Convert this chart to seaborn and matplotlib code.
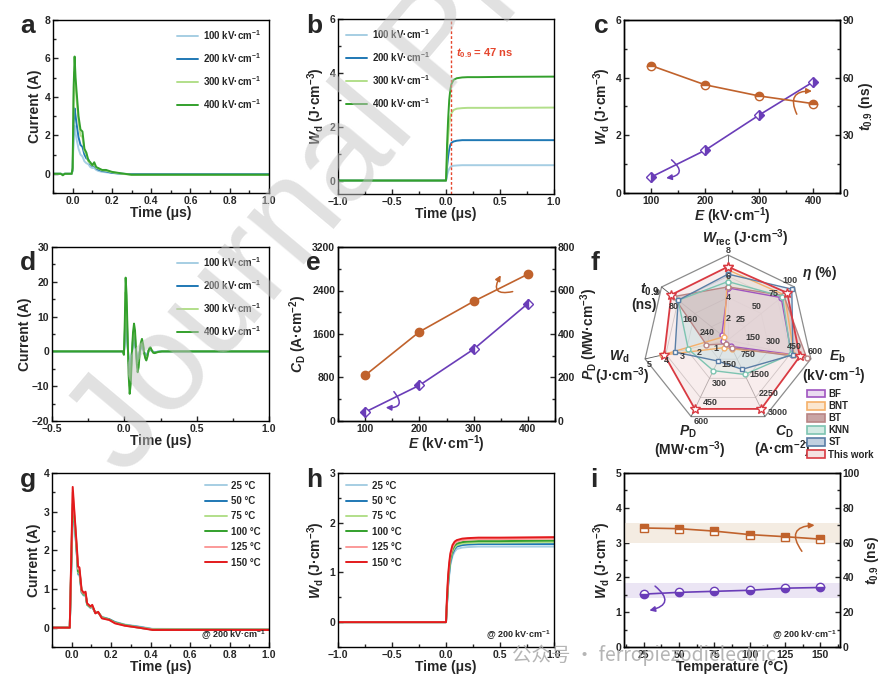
import numpy as np
import matplotlib
matplotlib.use("Agg")
import matplotlib.pyplot as plt
import seaborn as sns
from matplotlib.patches import Patch
from matplotlib.ticker import AutoMinorLocator

# ---------------- data ----------------
FIELDS = ["100", "200", "300", "400"]
TEMPS = ["25", "50", "75", "100", "125", "150"]

# (a) overdamped discharge current
TIME_A = [-0.1, -0.06, -0.05, -0.04, -0.005, 0.0, 0.005, 0.01, 0.015, 0.02, 0.03, 0.04, 0.05, 0.06,
          0.07, 0.08, 0.09, 0.10, 0.11, 0.12, 0.13, 0.15, 0.17, 0.2, 0.25, 0.3, 0.35, 1.0]
CUR_A_100 = [0, 0, -0.03, 0, 0, 0.15, 1.9, 2.5, 2.1, 1.8, 1.3, 1.0, 0.9, 0.65, 0.55, 0.5, 0.35, 0.3,
             0.3, 0.2, 0.15, 0.1, 0.08, 0.04, 0.0, -0.02, -0.02, -0.02]
CUR_A_200 = [0, 0, -0.03, 0, 0, 0.2, 2.6, 3.4, 3.0, 2.6, 1.9, 1.5, 1.4, 1.0, 0.8, 0.75, 0.5, 0.4,
             0.42, 0.28, 0.22, 0.15, 0.12, 0.05, 0.0, -0.02, -0.02, -0.02]
CUR_A_300 = [0, 0, -0.05, 0, 0, 0.2, 3.8, 5.3, 4.6, 3.9, 2.7, 2.0, 1.9, 1.2, 1.0, 0.65, 0.55, 0.42,
             0.5, 0.3, 0.28, 0.18, 0.16, 0.08, 0.0, -0.05, -0.05, -0.05]
CUR_A_400 = [0, 0, -0.08, 0, 0, 0.3, 4.5, 6.1, 5.0, 4.3, 3.0, 2.3, 2.2, 1.3, 1.1, 0.7, 0.6, 0.45,
             0.6, 0.35, 0.3, 0.2, 0.2, 0.1, 0.02, -0.05, -0.05, -0.05]

# (b) discharged energy density vs time
TIME_B = [-1.0, -0.01, 0.0, 0.005, 0.01, 0.02, 0.03, 0.04, 0.05, 0.07, 0.1, 0.15, 0.2, 0.3, 0.5, 1.0]
WD_B_100 = [0, 0, 0, 0.09, 0.2, 0.34, 0.44, 0.5, 0.53, 0.55, 0.56, 0.57, 0.57, 0.57, 0.57, 0.57]
WD_B_200 = [0, 0, 0, 0.22, 0.52, 0.9, 1.17, 1.32, 1.4, 1.45, 1.48, 1.5, 1.5, 1.5, 1.5, 1.5]
WD_B_300 = [0, 0, 0, 0.4, 0.95, 1.62, 2.1, 2.38, 2.5, 2.62, 2.67, 2.69, 2.7, 2.7, 2.7, 2.71]
WD_B_400 = [0, 0, 0, 0.6, 1.35, 2.3, 3.0, 3.38, 3.58, 3.74, 3.8, 3.83, 3.84, 3.84, 3.85, 3.86]
T09_MARK = 0.047

# (c) Wd and t0.9 vs field
E_FIELD = [100, 200, 300, 400]
WD_C = [0.55, 1.48, 2.7, 3.85]
T09_C = [66.3, 56.3, 50.5, 46.5]

# (d) underdamped discharge current
TIME_D = [-0.5, -0.01, -0.003, 0.002, 0.009, 0.016, 0.023, 0.03, 0.037, 0.045, 0.052, 0.06, 0.067,
          0.074, 0.08, 0.086, 0.092, 0.099, 0.106, 0.114, 0.122, 0.13, 0.137, 0.145, 0.152, 0.16,
          0.167, 0.174, 0.18, 0.19, 0.2, 0.21, 0.23, 0.26, 1.0]
CUR_D_100 = [0, 0, -0.3, 1.8, 6.4, 4.8, 1.2, -2.1, -3.7, -2.7, -0.3, 1.7, 2.4, 1.8, 0.3, -1.1, -1.8,
             -1.4, -0.2, 0.8, 1.1, 0.6, -0.2, -0.6, -0.8, -0.5, 0, 0.3, 0.4, 0.1, -0.1, -0.2, -0.1, 0, 0]
CUR_D_200 = [0, 0, -0.6, 3.5, 12.7, 9.6, 2.4, -4.2, -7.9, -5.4, -0.6, 3.3, 4.8, 3.6, 0.6, -2.1, -3.6,
             -2.7, -0.3, 1.5, 2.2, 1.2, -0.3, -1.2, -1.6, -0.9, 0.1, 0.6, 0.7, 0.2, -0.2, -0.3, -0.1, 0, 0]
CUR_D_300 = [0, 0, -0.8, 4.5, 17, 13, 3.2, -5.5, -10, -7.2, -0.8, 4.4, 6.4, 4.8, 0.8, -2.8, -4.8,
             -3.6, -0.4, 2, 2.9, 1.6, -0.4, -1.6, -2.1, -1.2, 0.2, 0.8, 1, 0.2, -0.3, -0.4, -0.2, 0, 0]
CUR_D_400 = [0, 0, -1, 6, 21.2, 16, 4, -7, -12.2, -9, -1, 5.5, 8, 6, 1, -3.5, -6, -4.5, -0.5, 2.5,
             3.6, 2, -0.5, -2, -2.6, -1.5, 0.2, 1, 1.2, 0.3, -0.4, -0.5, -0.2, 0, 0]

# (e) current density and power density vs field
CD_E = [840, 1640, 2200, 2700]
PD_E = [41, 164, 330, 540]

# (f) radar comparison
RADAR_MIN = [0, 0, 0, 0, 0, 0, 320]
RADAR_MAX = [8, 100, 600, 3000, 600, 5, 0]
RADAR_TICKS = [[2, 4, 6, 8], [25, 50, 75, 100], [150, 300, 450, 600], [750, 1500, 2250, 3000],
               [150, 300, 450, 600], [1, 2, 3, 4, 5], [240, 160, 80, 0]]
MATERIALS = ["BF", "BNT", "BT", "KNN", "ST", "This work"]
#            Wrec  eta  Eb   CD    PD   Wd    t0.9
RADAR_BF = [4.9, 80, 460, 250, 30, 0.3, 290]
RADAR_BNT = [6.6, 85, 480, 350, 60, 4.0, 300]
RADAR_BT = [5.0, 84, 570, 300, 30, 1.3, 58]
RADAR_KNN = [5.5, 82, 455, 1350, 240, 2.4, 80]
RADAR_ST = [6.2, 96, 470, 1150, 165, 3.2, 80]
RADAR_THIS = [6.9, 89, 520, 2700, 540, 3.85, 47]

# (g) current at various temperatures
TIME_G = [-0.1, -0.01, 0.0, 0.005, 0.015, 0.027, 0.032, 0.039, 0.05, 0.061, 0.07, 0.078, 0.095,
          0.104, 0.12, 0.134, 0.153, 0.19, 0.22, 0.27, 0.34, 0.41, 1.0]
CUR_G_25 = [0, 0, 1.9, 2.9, 2.65, 1.8, 1.37, 1.4, 0.9, 0.83, 0.84, 0.6, 0.51, 0.53, 0.38, 0.38, 0.28,
            0.22, 0.15, 0.08, 0.03, -0.03, -0.05]
CUR_G_50 = [0, 0, 2.0, 3.0, 2.7, 1.82, 1.4, 1.42, 0.92, 0.84, 0.85, 0.6, 0.52, 0.54, 0.38, 0.39, 0.27,
            0.22, 0.14, 0.07, 0.02, -0.04, -0.05]
CUR_G_75 = [0, 0, 2.1, 3.1, 2.75, 1.85, 1.42, 1.45, 0.93, 0.85, 0.86, 0.6, 0.52, 0.55, 0.38, 0.39, 0.27,
            0.21, 0.13, 0.07, 0.01, -0.04, -0.05]
CUR_G_100 = [0, 0, 2.2, 3.2, 2.8, 1.9, 1.45, 1.48, 0.95, 0.86, 0.88, 0.6, 0.53, 0.56, 0.38, 0.4, 0.26,
             0.21, 0.13, 0.06, 0.0, -0.05, -0.05]
CUR_G_125 = [0, 0, 2.3, 3.5, 2.85, 1.95, 1.52, 1.52, 0.95, 0.88, 0.9, 0.62, 0.54, 0.57, 0.37, 0.4, 0.25,
             0.2, 0.12, 0.05, 0.0, -0.05, -0.05]
CUR_G_150 = [0, 0, 2.4, 3.64, 2.88, 2.0, 1.58, 1.56, 0.98, 0.9, 0.93, 0.63, 0.55, 0.59, 0.37, 0.41, 0.24,
             0.2, 0.11, 0.05, 0.0, -0.06, -0.06]

# (h) Wd vs time at various temperatures
TIME_H = [-1.0, -0.01, 0.0, 0.01, 0.02, 0.03, 0.04, 0.06, 0.08, 0.1, 0.15, 0.2, 0.3, 0.5, 1.0]
WD_H_25 = [0, 0, 0, 0.38, 0.72, 0.95, 1.15, 1.33, 1.42, 1.47, 1.5, 1.51, 1.52, 1.52, 1.52]
WD_H_50 = [0, 0, 0, 0.4, 0.76, 1.0, 1.2, 1.38, 1.47, 1.52, 1.55, 1.56, 1.57, 1.57, 1.57]
WD_H_75 = [0, 0, 0, 0.42, 0.8, 1.05, 1.24, 1.42, 1.5, 1.55, 1.58, 1.59, 1.6, 1.6, 1.61]
WD_H_100 = [0, 0, 0, 0.45, 0.85, 1.1, 1.28, 1.46, 1.54, 1.58, 1.61, 1.62, 1.63, 1.63, 1.64]
WD_H_125 = [0, 0, 0, 0.5, 0.9, 1.15, 1.33, 1.5, 1.58, 1.62, 1.65, 1.66, 1.67, 1.67, 1.68]
WD_H_150 = [0, 0, 0, 0.55, 0.95, 1.2, 1.38, 1.55, 1.62, 1.65, 1.68, 1.69, 1.70, 1.70, 1.71]

# (i) thermal stability
TEMP_I = [25, 50, 75, 100, 125, 150]
WD_I = [1.52, 1.57, 1.6, 1.63, 1.69, 1.71]
T09_I = [68.4, 68.0, 66.6, 64.6, 63.4, 62.0]
WD_BAND = [1.4, 1.83]
T09_BAND = [60, 71]

# ---------------- style ----------------
sns.set_theme(style="ticks")
plt.rcParams.update({
    "font.family": ["Liberation Sans", "DejaVu Sans"],
    "font.weight": "bold",
    "axes.labelweight": "bold",
    "mathtext.fontset": "custom",
    "mathtext.rm": "Liberation Sans:bold",
    "mathtext.it": "Liberation Sans:italic:bold",
    "mathtext.bf": "Liberation Sans:bold",
    "axes.unicode_minus": True,
})

PAL = sns.color_palette("Paired", 6)
BROWN = "#c0622c"
PURPLE = "#6a3db8"
RED_T = "#e5462d"

fig = plt.figure(figsize=(8.88, 6.9), dpi=100)


def box(l, t, r, b):
    return [l / 888, 1 - b / 690, (r - l) / 888, (b - t) / 690]


def style(ax, right=None):
    for a in [ax] + ([right] if right is not None else []):
        a.tick_params(which="both", direction="in", width=1, labelsize=7.5, pad=2)
        a.tick_params(which="major", length=3.5)
        a.tick_params(which="minor", length=2)
        for s in a.spines.values():
            s.set_linewidth(1.0)
            s.set_color("black")
    ax.xaxis.set_minor_locator(AutoMinorLocator(2))
    ax.yaxis.set_minor_locator(AutoMinorLocator(2))
    ax.tick_params(top=False, right=False, which="both")
    if right is not None:
        right.yaxis.set_minor_locator(AutoMinorLocator(2))


def curves(ax, t, series, labels, colors):
    for ys, lab, c in zip(series, labels, colors):
        sns.lineplot(x=t, y=ys, ax=ax, color=c, lw=1.4, label=lab, sort=False, estimator=None)


def legend(ax, loc, spacing):
    ax.legend(loc=loc, frameon=False, fontsize=7, handlelength=2.2, handletextpad=0.5,
              labelspacing=spacing, borderaxespad=0.4)


def curl(ax, head, tail, color, rad):
    ax.annotate("", xy=head, xytext=tail, zorder=6,
                arrowprops=dict(arrowstyle="-|>", color=color, lw=1.1, mutation_scale=8,
                                shrinkA=0, shrinkB=0, connectionstyle=f"arc3,rad={rad}"))


WD_LABEL = r"$W_\mathrm{d}$ (J·cm$^{-3}$)"
T09_LABEL = r"$t_{0.9}$ (ns)"
E_LABEL = r"$E$ (kV·cm$^{-1}$)"
FIELD_LABELS = [f + r" kV·cm$^{-1}$" for f in FIELDS]
TEMP_LABELS = [t + " °C" for t in TEMPS]
AT_FIELD = r"@ 200 kV·cm$^{-1}$"

# (a)
ax = fig.add_axes(box(53, 20, 269, 193))
curves(ax, TIME_A, [CUR_A_100, CUR_A_200, CUR_A_300, CUR_A_400], FIELD_LABELS, PAL[:4])
ax.set(xlim=(-0.1, 1.0), ylim=(-1, 8), xticks=[0, 0.2, 0.4, 0.6, 0.8, 1.0], yticks=[0, 2, 4, 6, 8])
ax.xaxis.set_major_formatter("{x:.1f}")
ax.set_xlabel("Time (μs)", fontsize=10, labelpad=0)
ax.set_ylabel("Current (A)", fontsize=10, labelpad=2)
style(ax)
legend(ax, "upper right", 0.95)

# (b)
ax = fig.add_axes(box(338, 19, 554, 194))
curves(ax, TIME_B, [WD_B_100, WD_B_200, WD_B_300, WD_B_400], FIELD_LABELS, PAL[:4])
ax.axvline(T09_MARK, color=RED_T, ls=(0, (2, 1.5)), lw=1)
ax.text(0.09, 4.72, r"$t_{0.9}$ = 47 ns", color=RED_T, fontsize=8, va="center")
ax.set(xlim=(-1, 1), ylim=(-0.5, 6), xticks=[-1, -0.5, 0, 0.5, 1], yticks=[0, 2, 4, 6])
ax.xaxis.set_major_formatter("{x:.1f}")
ax.set_xlabel("Time (μs)", fontsize=10, labelpad=0)
ax.set_ylabel(WD_LABEL, fontsize=10, labelpad=2)
style(ax)
legend(ax, "upper left", 0.95)

# (c)
ax = fig.add_axes(box(624, 20, 840, 193))
ax2 = ax.twinx()
ax.plot(E_FIELD, WD_C, color=PURPLE, lw=1.2, marker="D", ms=5.5, fillstyle="right",
        markerfacecolor=PURPLE, markerfacecoloralt="white", markeredgecolor=PURPLE)
ax2.plot(E_FIELD, T09_C, color=BROWN, lw=1.2, marker="o", ms=6, fillstyle="top",
         markerfacecolor=BROWN, markerfacecoloralt="white", markeredgecolor=BROWN)
ax.set(xlim=(50, 450), ylim=(0, 6), xticks=[100, 200, 300, 400], yticks=[0, 2, 4, 6])
ax2.set(ylim=(0, 90), yticks=[0, 30, 60, 90])
curl(ax, (128, 0.52), (138, 1.15), PURPLE, -1.1)
curl(ax2, (398, 53), (370, 41), BROWN, -0.8)
ax.set_xlabel(E_LABEL, fontsize=10, labelpad=0)
ax.set_ylabel(WD_LABEL, fontsize=10, labelpad=2)
ax2.set_ylabel(T09_LABEL, fontsize=10, labelpad=2)
style(ax, ax2)

# (d)
ax = fig.add_axes(box(52, 247, 269, 421))
curves(ax, TIME_D, [CUR_D_100, CUR_D_200, CUR_D_300, CUR_D_400], FIELD_LABELS, PAL[:4])
ax.set(xlim=(-0.5, 1.0), ylim=(-20, 30), xticks=[-0.5, 0, 0.5, 1.0], yticks=[-20, -10, 0, 10, 20, 30])
ax.xaxis.set_major_formatter("{x:.1f}")
ax.set_xlabel("Time (μs)", fontsize=10, labelpad=0)
ax.set_ylabel("Current (A)", fontsize=10, labelpad=0)
style(ax)
legend(ax, "upper right", 0.95)

# (e)
ax = fig.add_axes(box(338, 247, 555, 421))
ax2 = ax.twinx()
ax.plot(E_FIELD, CD_E, color=BROWN, lw=1.2, marker="o", ms=6, markeredgecolor=BROWN)
ax2.plot(E_FIELD, PD_E, color=PURPLE, lw=1.2, marker="D", ms=5.5, fillstyle="left",
         markerfacecolor=PURPLE, markerfacecoloralt="white", markeredgecolor=PURPLE)
ax.set(xlim=(50, 450), ylim=(0, 3200), xticks=[100, 200, 300, 400], yticks=[0, 800, 1600, 2400, 3200])
ax2.set(ylim=(0, 800), yticks=[0, 200, 400, 600, 800])
curl(ax2, (138, 62), (153, 135), PURPLE, -1.1)
curl(ax2, (350, 670), (372, 595), BROWN, -1.1)
ax.set_xlabel(E_LABEL, fontsize=10, labelpad=0)
ax.set_ylabel(r"$C_\mathrm{D}$ (A·cm$^{-2}$)", fontsize=10, labelpad=2)
ax2.set_ylabel(r"$P_\mathrm{D}$ (MW·cm$^{-3}$)", fontsize=10, labelpad=2)
style(ax, ax2)

# (f) radar
axf = fig.add_axes(box(600, 225, 888, 455))
axf.set_xlim(-128 / 85, 160 / 85)
axf.set_ylim(-115 / 85, 115 / 85)
axf.axis("off")
n_ax = len(RADAR_MIN)
ang = np.arange(n_ax) * 2 * np.pi / n_ax
ux, uy = np.sin(ang), np.cos(ang)
lo, hi = np.array(RADAR_MIN, float), np.array(RADAR_MAX, float)

axf.fill(ux, uy, facecolor="white", edgecolor="#8c8c8c", lw=0.9, zorder=0)
for lev in [0.25, 0.5, 0.75]:
    axf.fill(ux * lev, uy * lev, facecolor="none", edgecolor="#9a9a9a", lw=0.6, zorder=1)
for k in range(n_ax):
    axf.plot([0, ux[k]], [0, uy[k]], color="#555555", lw=0.6, zorder=1)

radar_sets = [RADAR_THIS, RADAR_ST, RADAR_KNN, RADAR_BT, RADAR_BNT, RADAR_BF]
radar_names = ["This work", "ST", "KNN", "BT", "BNT", "BF"]
edge_c = {"BF": "#a055c0", "BNT": "#f5b06a", "BT": "#b98585", "KNN": "#7dc4b1",
          "ST": "#5a7ea6", "This work": "#d93a42"}
face_c = {"BF": "#eadcf0", "BNT": "#fbe6cf", "BT": "#c9a5a5", "KNN": "#d3ebe4",
          "ST": "#c2d0e0", "This work": "#f4e1e1"}
face_a = {"BF": 0.35, "BNT": 0.35, "BT": 0.45, "KNN": 0.35, "ST": 0.35, "This work": 0.6}
mark = {"BF": "o", "BNT": "o", "BT": "o", "KNN": "o", "ST": "s", "This work": "*"}
for vals, name in zip(radar_sets, radar_names):
    r = (np.array(vals, float) - lo) / (hi - lo)
    axf.fill(r * ux, r * uy, facecolor=face_c[name], alpha=face_a[name], lw=0, zorder=2)
for vals, name in zip(radar_sets[::-1], radar_names[::-1]):
    r = (np.array(vals, float) - lo) / (hi - lo)
    xs, ys = np.append(r * ux, r[0] * ux[0]), np.append(r * uy, r[0] * uy[0])
    lw = 1.3 if name == "This work" else 1.0
    axf.plot(xs, ys, color=edge_c[name], lw=lw, zorder=4 if name == "This work" else 3,
             marker=mark[name], ms=7 if name == "This work" else 3.5,
             markerfacecolor="white", markeredgecolor=edge_c[name], markeredgewidth=1)

tick_off = [(0.0, 0.0), (-0.05, 0.08), (0.05, 0.09), (0.04, 0.05), (0.12, -0.06), (0.05, -0.06),
            (-0.05, -0.07)]
tick_ha = ["center", "center", "center", "left", "center", "center", "center"]
for k in range(n_ax):
    for tv in RADAR_TICKS[k]:
        rr = (tv - lo[k]) / (hi[k] - lo[k])
        dx, dy = tick_off[k]
        if k == 0 and rr == 1.0:
            dy = 0.05
        axf.text(rr * ux[k] + dx, rr * uy[k] + dy, str(tv), fontsize=6.5, ha=tick_ha[k],
                 va="center", color="#3a3a3a", zorder=5)

RADAR_NAMES = [(r"$W_\mathrm{rec}$ (J·cm$^{-3}$)", None), (r"$\eta$ (%)", None),
               (r"$E_\mathrm{b}$", "(kV·cm$^{-1}$)"), (r"$C_\mathrm{D}$", "(A·cm$^{-2}$)"),
               (r"$P_\mathrm{D}$", "(MW·cm$^{-3}$)"), (r"$W_\mathrm{d}$", "(J·cm$^{-3}$)"),
               (r"$t_{0.9}$", "(ns)")]
name_pos = [(0.2, 1.2), (1.08, 0.79), (1.29, -0.2), (0.66, -1.08), (-0.47, -1.08), (-1.28, -0.2),
            (-0.92, 0.59)]
sub_pos = [None, None, (1.25, -0.42), (0.64, -1.28), (-0.45, -1.3), (-1.25, -0.42), (-0.99, 0.41)]
for (main, sub), p, sp in zip(RADAR_NAMES, name_pos, sub_pos):
    axf.text(p[0], p[1], main, fontsize=10, ha="center", va="center")
    if sub is not None:
        axf.text(sp[0], sp[1], sub, fontsize=10, ha="center", va="center")

handles = [Patch(facecolor=face_c[m], edgecolor=edge_c[m], lw=1.2) for m in MATERIALS]
axf.legend(handles, MATERIALS, loc="upper left", bbox_to_anchor=(803 / 888, 1 - 385 / 690),
           bbox_transform=fig.transFigure, frameon=False, fontsize=7, handlelength=1.9,
           handleheight=0.85, labelspacing=0.22, handletextpad=0.3, borderaxespad=0)

# (g)
ax = fig.add_axes(box(52, 473, 269, 647))
curves(ax, TIME_G, [CUR_G_25, CUR_G_50, CUR_G_75, CUR_G_100, CUR_G_125, CUR_G_150], TEMP_LABELS, PAL)
ax.set(xlim=(-0.1, 1.0), ylim=(-0.5, 4), xticks=[0, 0.2, 0.4, 0.6, 0.8, 1.0], yticks=[0, 1, 2, 3, 4])
ax.xaxis.set_major_formatter("{x:.1f}")
ax.text(0.985, 0.03, AT_FIELD, transform=ax.transAxes, fontsize=6.5, ha="right", va="bottom")
ax.set_xlabel("Time (μs)", fontsize=10, labelpad=0)
ax.set_ylabel("Current (A)", fontsize=10, labelpad=2)
style(ax)
legend(ax, "upper right", 0.55)

# (h)
ax = fig.add_axes(box(338, 473, 554, 647))
curves(ax, TIME_H, [WD_H_25, WD_H_50, WD_H_75, WD_H_100, WD_H_125, WD_H_150], TEMP_LABELS, PAL)
ax.set(xlim=(-1, 1), ylim=(-0.5, 3), xticks=[-1, -0.5, 0, 0.5, 1], yticks=[0, 1, 2, 3])
ax.xaxis.set_major_formatter("{x:.1f}")
ax.text(0.985, 0.03, AT_FIELD, transform=ax.transAxes, fontsize=6.5, ha="right", va="bottom")
ax.set_xlabel("Time (μs)", fontsize=10, labelpad=0)
ax.set_ylabel(WD_LABEL, fontsize=10, labelpad=2)
style(ax)
legend(ax, "upper left", 0.55)

# (i)
ax = fig.add_axes(box(624, 473, 840, 647))
ax2 = ax.twinx()
ax.axhspan(WD_BAND[0], WD_BAND[1], color="#ebe5f4", lw=0, zorder=0)
ax2.axhspan(T09_BAND[0], T09_BAND[1], color="#f4ece2", lw=0, zorder=0)
ax.plot(TEMP_I, WD_I, color=PURPLE, lw=1.2, marker="o", ms=6, fillstyle="bottom",
        markerfacecolor=PURPLE, markerfacecoloralt="white", markeredgecolor=PURPLE)
ax2.plot(TEMP_I, T09_I, color=BROWN, lw=1.2, marker="s", ms=5.5, fillstyle="top",
         markerfacecolor=BROWN, markerfacecoloralt="white", markeredgecolor=BROWN)
ax.set(xlim=(11, 164), ylim=(0, 5), xticks=TEMP_I, yticks=[0, 1, 2, 3, 4, 5])
ax2.set(ylim=(0, 100), yticks=[0, 20, 40, 60, 80, 100])
curl(ax, (29, 1.05), (33, 1.75), PURPLE, -1.0)
curl(ax2, (146, 70), (137, 55), BROWN, -0.9)
ax.text(0.985, 0.03, AT_FIELD, transform=ax.transAxes, fontsize=6.5, ha="right", va="bottom")
ax.set_xlabel("Temperature (°C)", fontsize=10, labelpad=0)
ax.set_ylabel(WD_LABEL, fontsize=10, labelpad=2)
ax2.set_ylabel(T09_LABEL, fontsize=10, labelpad=2)
style(ax, ax2)
ax.xaxis.set_minor_locator(AutoMinorLocator(2))

# panel letters
for letter, (px, py) in zip("abcdefghi", [(20, 33), (306, 33), (594, 33), (20, 270), (306, 270),
                                          (590, 270), (20, 487), (306, 487), (590, 487)]):
    fig.text(px / 888, 1 - py / 690, letter, fontsize=19, fontweight="bold", va="baseline")

# watermarks present in the reference
fig.text(125 / 888, 1 - 478 / 690, "Journal Pre-proof", fontsize=100, fontweight="normal",
         color="#c4c4c4", alpha=0.5, rotation=50, rotation_mode="anchor", ha="left",
         va="baseline", zorder=100)
fig.text(512 / 888, 1 - 655 / 690, "公众号 · ferropiezodielectric", fontsize=14,
         fontweight="normal", color="#a8a8a8", va="center", ha="left", alpha=0.85,
         family=["Noto Sans CJK SC", "DejaVu Sans"], zorder=100)

fig.savefig("out.png", dpi=100)
